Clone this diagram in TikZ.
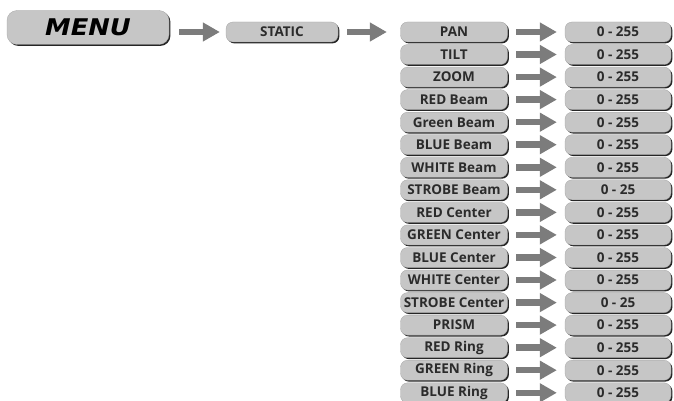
\documentclass[tikz,border=0pt]{standalone}
\usepackage{fontspec}
\setmainfont{Open Sans}
\newfontfamily\menufont[FakeStretch=1.12]{DejaVu Sans}
\usepackage{tikz}
\usetikzlibrary{arrows.meta,shadows}

\definecolor{boxgray}{HTML}{C6C6C6}
\definecolor{arrowgray}{HTML}{7C7C7C}
\definecolor{textgray}{HTML}{2B2B2B}

\begin{document}
\begin{tikzpicture}[x=1pt, y=-1pt,
		box_style/.style={rectangle, rounded corners=7pt, fill=boxgray, draw=black!35, line width=0.3pt,
			drop shadow={shadow xshift=1.4pt, shadow yshift=-1.4pt, fill=black!85, opacity=1},
			inner sep=0pt, minimum height=20pt, text=textgray, font=\fontsize{13.5}{15}\selectfont\bfseries},
		param_style/.style={box_style, minimum width=107pt},
		value_style/.style={box_style, minimum width=106pt},
		arrow_style/.style={draw=arrowgray, line width=6.5pt, -{Triangle[length=17pt, width=18pt]},
			shorten <=8.5pt, shorten >=8pt}]

		\useasboundingbox (0,0) rectangle (674,401);

		\node[box_style, minimum width=162pt, minimum height=34pt, rounded corners=10pt,
			font=\menufont\bfseries\itshape\fontsize{23}{26}\selectfont, text=black] (menu) at (88,27.5) {MENU};
		\node[box_style, minimum width=112pt] (static) at (282,32) {STATIC};

		\node[param_style] (p0)  at (454,32.0)  {PAN};
		\node[param_style] (p1)  at (454,54.5)  {TILT};
		\node[param_style] (p2)  at (454,77.1)  {ZOOM};
		\node[param_style] (p3)  at (454,99.6)  {RED Beam};
		\node[param_style] (p4)  at (454,122.2) {Green Beam};
		\node[param_style] (p5)  at (454,144.7) {BLUE Beam};
		\node[param_style] (p6)  at (454,167.3) {WHITE Beam};
		\node[param_style] (p7)  at (454,189.8) {STROBE Beam};
		\node[param_style] (p8)  at (454,212.4) {RED Center};
		\node[param_style] (p9)  at (454,234.9) {GREEN Center};
		\node[param_style] (p10) at (454,257.5) {BLUE Center};
		\node[param_style] (p11) at (454,280.0) {WHITE Center};
		\node[param_style] (p12) at (454,302.6) {STROBE Center};
		\node[param_style] (p13) at (454,325.1) {PRISM};
		\node[param_style] (p14) at (454,347.7) {RED Ring};
		\node[param_style] (p15) at (454,370.2) {GREEN Ring};
		\node[param_style] (p16) at (454,392.8) {BLUE Ring};

		\node[value_style] (v0)  at (618,32.0)  {0 - 255};
		\node[value_style] (v1)  at (618,54.5)  {0 - 255};
		\node[value_style] (v2)  at (618,77.1)  {0 - 255};
		\node[value_style] (v3)  at (618,99.6)  {0 - 255};
		\node[value_style] (v4)  at (618,122.2) {0 - 255};
		\node[value_style] (v5)  at (618,144.7) {0 - 255};
		\node[value_style] (v6)  at (618,167.3) {0 - 255};
		\node[value_style] (v7)  at (618,189.8) {0 - 25};
		\node[value_style] (v8)  at (618,212.4) {0 - 255};
		\node[value_style] (v9)  at (618,234.9) {0 - 255};
		\node[value_style] (v10) at (618,257.5) {0 - 255};
		\node[value_style] (v11) at (618,280.0) {0 - 255};
		\node[value_style] (v12) at (618,302.6) {0 - 25};
		\node[value_style] (v13) at (618,325.1) {0 - 255};
		\node[value_style] (v14) at (618,347.7) {0 - 255};
		\node[value_style] (v15) at (618,370.2) {0 - 255};
		\node[value_style] (v16) at (618,392.8) {0 - 255};

		\draw[arrow_style, shorten <=10pt, shorten >=6pt] (menu.east |- static.west) -- (static.west);
		\draw[arrow_style, shorten <=9pt, shorten >=13.5pt] (static) -- (p0);

		\draw[arrow_style] (p0)  -- (v0);
		\draw[arrow_style] (p1)  -- (v1);
		\draw[arrow_style] (p2)  -- (v2);
		\draw[arrow_style] (p3)  -- (v3);
		\draw[arrow_style] (p4)  -- (v4);
		\draw[arrow_style] (p5)  -- (v5);
		\draw[arrow_style] (p6)  -- (v6);
		\draw[arrow_style] (p7)  -- (v7);
		\draw[arrow_style] (p8)  -- (v8);
		\draw[arrow_style] (p9)  -- (v9);
		\draw[arrow_style] (p10) -- (v10);
		\draw[arrow_style] (p11) -- (v11);
		\draw[arrow_style] (p12) -- (v12);
		\draw[arrow_style] (p13) -- (v13);
		\draw[arrow_style] (p14) -- (v14);
		\draw[arrow_style] (p15) -- (v15);
		\draw[arrow_style] (p16) -- (v16);

\end{tikzpicture}
\end{document}
